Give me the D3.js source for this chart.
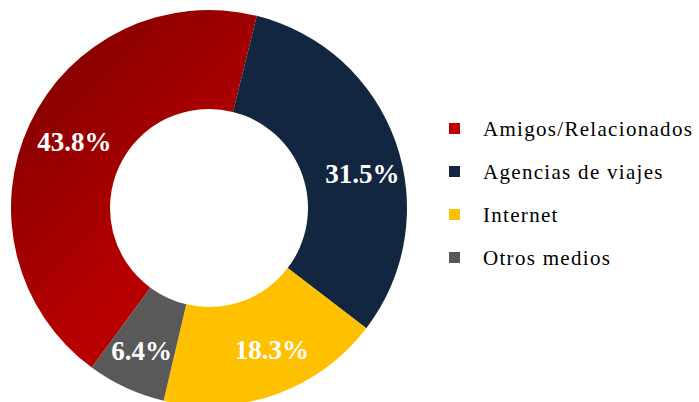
<!DOCTYPE html>
<html>
<head>
<meta charset="utf-8">
<script src="https://cdn.jsdelivr.net/npm/d3@7"></script>
<style>
  body { margin: 0; background: #ffffff; }
  svg { display: block; }
</style>
</head>
<body>
<div class="container"></div>
<script>
const width = 699;
const height = 402;

// data
const categories = ["Amigos/Relacionados", "Agencias de viajes", "Internet", "Otros medios"];
const shares = [43.8, 31.5, 18.3, 6.4];
const labels = ["43.8%", "31.5%", "18.3%", "6.4%"];
const colors = ["#c00000", "#12263f", "#ffc000", "#595959"];

// small hand moves of the data labels, like in the original chart
const labelNudge = [[2, -2], [11, 16], [12, -1], [-4, 5]];

const cx = 209;
const cy = 208;
const outerR = 198;
const innerR = 99;
const startDeg = 216.3;

const svg = d3.select(".container")
    .append("svg")
    .attr("width", width)
    .attr("height", height);

// the red slice is shaded from dark top-left to brighter bottom-right
// (coords are local to the translated pie group)
const defs = svg.append("defs");
const grad = defs.append("linearGradient")
    .attr("id", "redGrad")
    .attr("gradientUnits", "userSpaceOnUse")
    .attr("x1", -outerR).attr("y1", -outerR)
    .attr("x2", outerR).attr("y2", outerR);
grad.append("stop").attr("offset", 0).attr("stop-color", "#780000");
grad.append("stop").attr("offset", 0.5).attr("stop-color", "#b80000");
grad.append("stop").attr("offset", 1).attr("stop-color", "#c00000");

const pie = d3.pie()
    .sort(null)
    .value(d => d)
    .startAngle(startDeg * Math.PI / 180)
    .endAngle(startDeg * Math.PI / 180 + 2 * Math.PI);

const arc = d3.arc()
    .innerRadius(innerR)
    .outerRadius(outerR);

const labelArc = d3.arc()
    .innerRadius(151)
    .outerRadius(151);

const g = svg.append("g")
    .attr("transform", `translate(${cx},${cy})`);

const slices = pie(shares);

g.selectAll("path")
    .data(slices)
    .enter()
    .append("path")
    .attr("d", arc)
    .attr("fill", (d, i) => i == 0 ? "url(#redGrad)" : colors[i]);

g.selectAll("text")
    .data(slices)
    .enter()
    .append("text")
    .attr("transform", (d, i) => {
        const c = labelArc.centroid(d);
        return `translate(${c[0] + labelNudge[i][0]},${c[1] + labelNudge[i][1]})`;
    })
    .attr("text-anchor", "middle")
    .attr("dy", "0.35em")
    .attr("fill", "#ffffff")
    .attr("font-family", "'Liberation Serif', 'Times New Roman', serif")
    .attr("font-weight", "bold")
    .attr("font-size", 27)
    .text((d, i) => labels[i]);

// legend
const legendY = d3.scalePoint()
    .domain(categories)
    .range([129, 258]);

const legend = svg.append("g");

const item = legend.selectAll("g")
    .data(categories)
    .enter()
    .append("g")
    .attr("transform", d => `translate(449,${legendY(d)})`);

item.append("rect")
    .attr("x", 0)
    .attr("y", -6)
    .attr("width", 11)
    .attr("height", 11)
    .attr("fill", (d, i) => colors[i]);

item.append("text")
    .attr("x", 34)
    .attr("dy", "0.35em")
    .attr("fill", "#000000")
    .attr("font-family", "'Liberation Serif', 'Times New Roman', serif")
    .attr("font-size", 21)
    .attr("letter-spacing", 1.3)
    .text(d => d);
</script>
</body>
</html>
